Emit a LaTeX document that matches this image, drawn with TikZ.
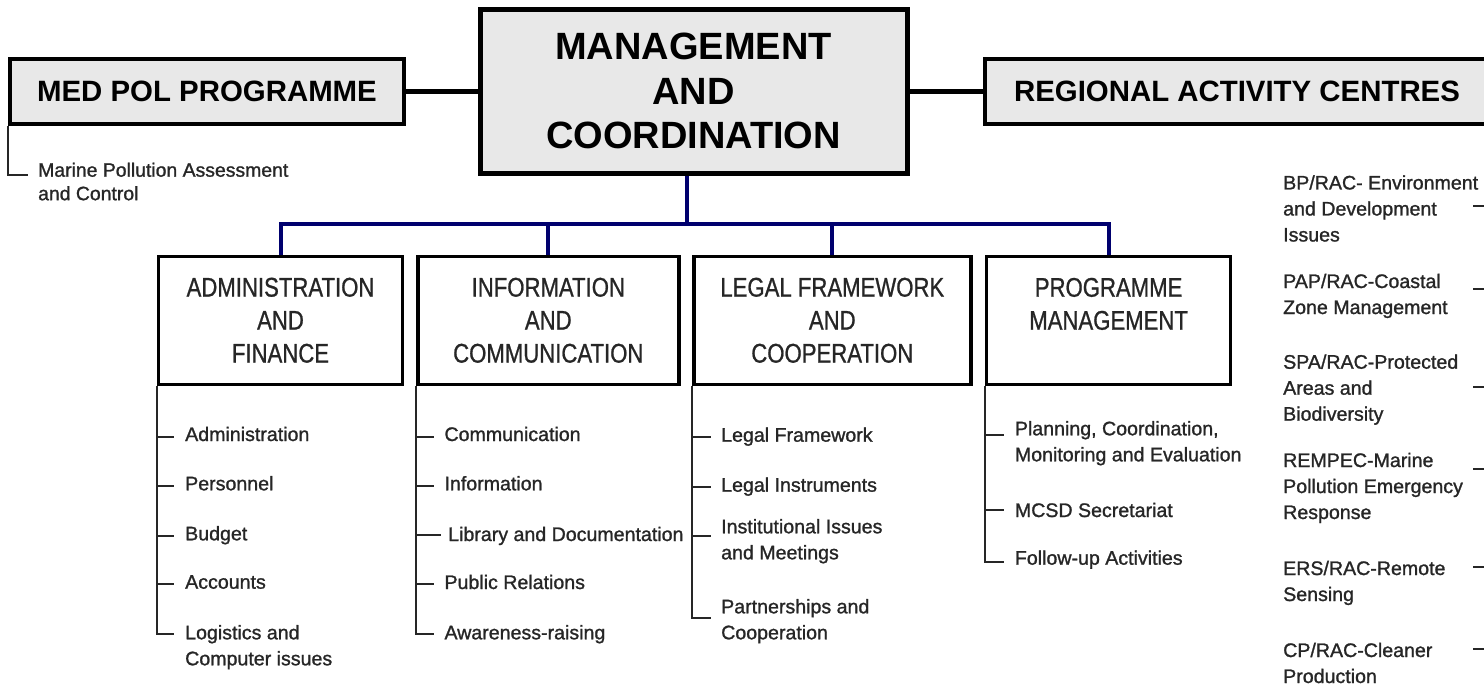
\documentclass[tikz,border=0pt]{standalone}
\usepackage{fontspec}
\setmainfont{Liberation Sans}
\newfontfamily\narrowfont{Liberation Sans}[FakeStretch=0.82,FakeBold=0.8]
\newfontfamily\itemfont{Liberation Sans}[FakeBold=1.2]
\usepackage{xcolor}
\usepackage{tikz}
\usetikzlibrary{positioning,calc}
\definecolor{busblue}{RGB}{0,0,110}
\definecolor{headgray}{RGB}{232,232,232}

\begin{document}
\begin{tikzpicture}[
        x=1pt,y=-1pt,
        headbox/.style={rectangle,draw,line width=4.5pt,fill=headgray,align=center,inner sep=0pt,font=\bfseries\fontsize{29.4}{34}\selectfont},
        unitbox/.style={rectangle,draw,line width=3.5pt,fill=white,align=center,inner sep=0pt,minimum height=128pt,text=black!85,font=\narrowfont\fontsize{27}{33}\selectfont},
        item/.style={anchor=base west,align=left,inner sep=0pt,text=black!85,font=\itemfont\fontsize{19.6}{26}\selectfont},
        tree/.style={line width=2pt,draw=black!85},
        bus/.style={line width=4pt,draw=busblue},
        link/.style={line width=4.5pt,draw=black}
    ]
        \useasboundingbox (0,0) rectangle (1484,687);
        \clip (0,0) rectangle (1484,687);

        \node[headbox,minimum width=394pt,minimum height=65pt] (medpol) at (207,91.7) {MED POL PROGRAMME};
        \node[headbox,line width=5pt,minimum width=427pt,minimum height=164pt,font=\bfseries\fontsize{38}{44.5}\selectfont] (mgmt) at (693.5,91.2) {MANAGEMENT\\AND\\COORDINATION};
        \node[headbox,minimum width=504pt,minimum height=65pt] (rac) at (1237,91.7) {REGIONAL ACTIVITY CENTRES};

        \draw[link] (medpol.east) -- (mgmt.west |- medpol.east);
        \draw[link] (mgmt.east |- rac.west) -- (rac.west);

        \node[unitbox,minimum width=244pt] (admin) at (280.5,320.3) {ADMINISTRATION\\AND\\FINANCE};
        \node[unitbox,minimum width=261pt] (info) at (548.3,320.3) {INFORMATION\\AND\\COMMUNICATION};
        \node[unitbox,minimum width=277pt] (legal) at (832.3,320.3) {LEGAL FRAMEWORK\\AND\\COOPERATION};
        \node[unitbox,minimum width=244pt] (prog) at (1108.6,320.3) {PROGRAMME\\MANAGEMENT\\\mbox{}};

        \coordinate (bus) at ($(mgmt.south)+(-6.8,48.8)$);
        \draw[bus] (mgmt.south -| bus) -- (bus);
        \draw[bus] (admin.north) |- (bus) -| (prog.north);
        \draw[bus] (info.north) -- (info.north |- bus);
        \draw[bus] (legal.north) -- (legal.north |- bus);

        \node[item,font=\itemfont\fontsize{19.4}{23.5}\selectfont] (marine) at (38,200.2) {Marine Pollution Assessment\\and Control};
        \coordinate (marinet) at (28,175);
        \draw[tree] (medpol.south west) |- (marinet);

        \node[item] (adm1) at (185,441) {Administration};
        \node[item] (adm2) at (185,490.3) {Personnel};
        \node[item] (adm3) at (185,540.3) {Budget};
        \node[item] (adm4) at (185,588.7) {Accounts};
        \node[item] (adm5) at (185,665.3) {Logistics and\\Computer issues};
        \coordinate (adm1t) at (174,436.5);
        \coordinate (adm2t) at (174,486.3);
        \coordinate (adm3t) at (174,536.3);
        \coordinate (adm4t) at (174,584.3);
        \coordinate (adm5t) at (174,634.3);
        \draw[tree] (admin.south west) |- (adm5t)
            (admin.south west |- adm1t) -- (adm1t)
            (admin.south west |- adm2t) -- (adm2t)
            (admin.south west |- adm3t) -- (adm3t)
            (admin.south west |- adm4t) -- (adm4t);

        \node[item] (info1) at (444.3,441) {Communication};
        \node[item] (info2) at (444.3,490.3) {Information};
        \node[item] (info3) at (448,541) {Library and Documentation};
        \node[item] (info4) at (444.3,589) {Public Relations};
        \node[item] (info5) at (444.3,639.3) {Awareness-raising};
        \coordinate (info1t) at (434,436.5);
        \coordinate (info2t) at (434,486.3);
        \coordinate (info3t) at (440.7,535);
        \coordinate (info4t) at (434,584);
        \coordinate (info5t) at (434,634);
        \draw[tree] (info.south west) |- (info5t)
            (info.south west |- info1t) -- (info1t)
            (info.south west |- info2t) -- (info2t)
            (info.south west |- info3t) -- (info3t)
            (info.south west |- info4t) -- (info4t);

        \node[item] (legal1) at (721,441.7) {Legal Framework};
        \node[item] (legal2) at (721,491.7) {Legal Instruments};
        \node[item] (legal3) at (721,559.3) {Institutional Issues\\and Meetings};
        \node[item] (legal4) at (721,639.3) {Partnerships and\\Cooperation};
        \coordinate (legal1t) at (711,436.7);
        \coordinate (legal2t) at (711,486.7);
        \coordinate (legal3t) at (711,535.7);
        \coordinate (legal4t) at (711,618.3);
        \draw[tree] (legal.south west) |- (legal4t)
            (legal.south west |- legal1t) -- (legal1t)
            (legal.south west |- legal2t) -- (legal2t)
            (legal.south west |- legal3t) -- (legal3t);

        \node[item] (prog1) at (1014.7,461.3) {Planning, Coordination,\\Monitoring and Evaluation};
        \node[item] (prog2) at (1014.7,517) {MCSD Secretariat};
        \node[item] (prog3) at (1014.7,564.7) {Follow-up Activities};
        \coordinate (prog1t) at (1004,435.3);
        \coordinate (prog2t) at (1004,510.3);
        \coordinate (prog3t) at (1004,562);
        \draw[tree] (prog.south west) |- (prog3t)
            (prog.south west |- prog1t) -- (prog1t)
            (prog.south west |- prog2t) -- (prog2t);

        \node[item] (rac1) at (1283,241.5) {BP/RAC- Environment\\and Development\\Issues};
        \node[item] (rac2) at (1283,314) {PAP/RAC-Coastal\\Zone Management};
        \node[item] (rac3) at (1283,420.7) {SPA/RAC-Protected\\Areas and\\Biodiversity};
        \node[item] (rac4) at (1283,519) {REMPEC-Marine\\Pollution Emergency\\Response};
        \node[item] (rac5) at (1283,601) {ERS/RAC-Remote\\Sensing};
        \node[item] (rac6) at (1283,683) {CP/RAC-Cleaner\\Production};
        \coordinate (racline) at (1492,206);
        \coordinate (rac1t) at (1473,206.3);
        \coordinate (rac2t) at (1473,288.7);
        \coordinate (rac3t) at (1473,387);
        \coordinate (rac4t) at (1473,469.3);
        \coordinate (rac5t) at (1473,567);
        \coordinate (rac6t) at (1473,648.7);
        \draw[tree] (rac1t) -- (rac1t -| racline)
            (rac2t) -- (rac2t -| racline)
            (rac3t) -- (rac3t -| racline)
            (rac4t) -- (rac4t -| racline)
            (rac5t) -- (rac5t -| racline)
            (rac6t) -- (rac6t -| racline);
    \end{tikzpicture}
\end{document}
